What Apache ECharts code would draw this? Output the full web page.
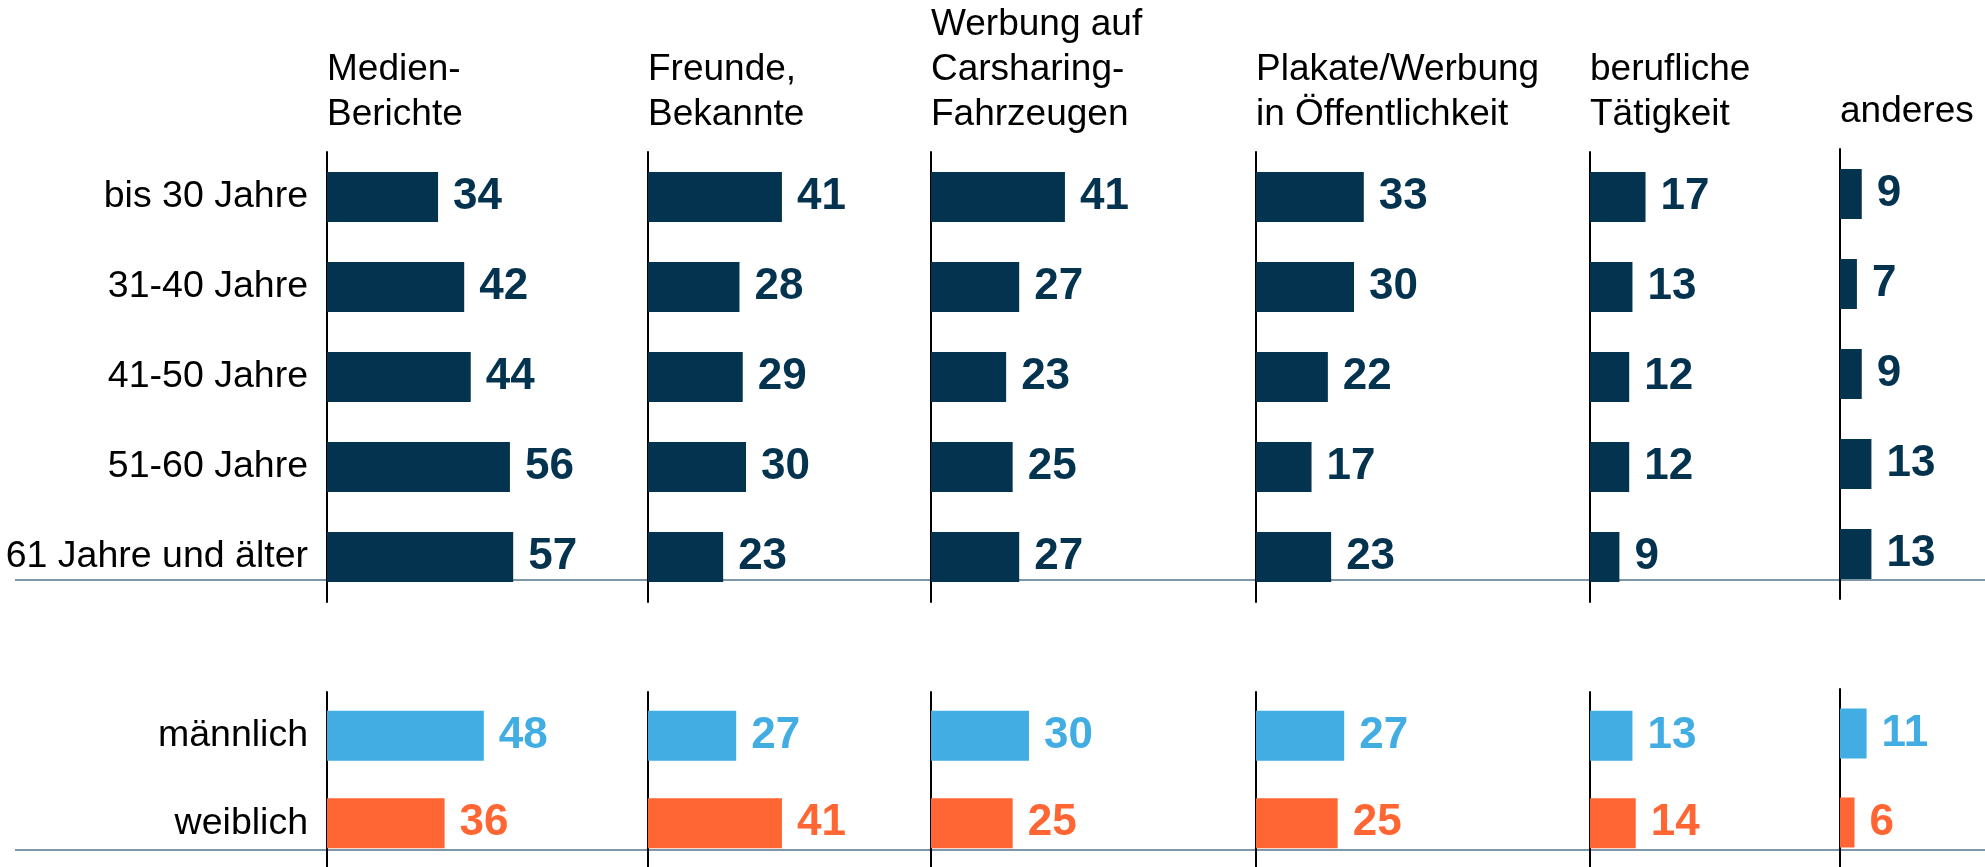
<!DOCTYPE html>
<html>
<head>
    <meta charset="UTF-8">
    <title>Carsharing - Informationsquellen</title>
    <script src="https://cdn.jsdelivr.net/npm/echarts@6/dist/echarts.min.js"></script>
    <style>
        html, body { margin: 0; padding: 0; background: #fff; }
    </style>
</head>
<body>
    <div id="main" style="width: 1985px;height:867px;"></div>
    <script>
        // Daten
        var ageGroups = ['bis 30 Jahre', '31-40 Jahre', '41-50 Jahre', '51-60 Jahre', '61 Jahre und älter'];
        var genders = ['männlich', 'weiblich'];
        var sources = ['Medien-\nBerichte', 'Freunde,\nBekannte', 'Werbung auf\nCarsharing-\nFahrzeugen',
                       'Plakate/Werbung\nin Öffentlichkeit', 'berufliche\nTätigkeit', 'anderes'];
        var medien     = [34, 42, 44, 56, 57];
        var freunde    = [41, 28, 29, 30, 23];
        var werbungCar = [41, 27, 23, 25, 27];
        var plakate    = [33, 30, 22, 17, 23];
        var beruflich  = [17, 13, 12, 12, 9];
        var anderes    = [9, 7, 9, 13, 13];
        var maennlich  = [48, 27, 30, 27, 13, 11];
        var weiblich   = [36, 41, 25, 25, 14, 6];

        var ageValues = [medien, freunde, werbungCar, plakate, beruflich, anderes];

        var NAVY = '#04334f', BLUE = '#41ade3', ORANGE = '#ff6633';
        var FONT = 'Liberation Sans, Arial, sans-serif';

        var panelLeft = [327, 648, 931, 1256, 1590, 1840];
        var panelShift = [0, 0, 0, 0, 0, -3];

        var chartDemo = echarts.init(document.getElementById('main'));

        var grids = [], xAxes = [], yAxes = [], series = [], titles = [];

        function labelOpt(color) {
            return {
                show: true, position: 'right', distance: 15,
                fontSize: 44, fontWeight: 'bold', fontFamily: FONT, color: color
            };
        }

        for (var p = 0; p < sources.length; p++) {
            var s = panelShift[p];
            titles.push({
                text: sources[p], left: panelLeft[p], bottom: 730 - s, padding: 0,
                textStyle: { fontSize: 37, lineHeight: 45, fontWeight: 'normal', color: '#000', fontFamily: FONT }
            });
            // oben: Altersgruppen
            grids.push({ left: panelLeft[p], top: 152 + s, width: 196, height: 450 });
            // unten: Geschlecht
            grids.push({ left: panelLeft[p], top: 692 + s, width: 196, height: 178 });

            for (var k = 0; k < 2; k++) {
                var gi = p * 2 + k;
                xAxes.push({ type: 'value', gridIndex: gi, min: 0, max: 60, show: false });
                yAxes.push({
                    type: 'category', gridIndex: gi, inverse: true,
                    data: k === 0 ? ageGroups : genders,
                    axisLine: { show: true, lineStyle: { color: '#000', width: 2 } },
                    axisTick: { show: false },
                    axisLabel: {
                        show: p === 0, margin: 19, fontSize: 37.5, color: '#000', fontFamily: FONT
                    }
                });
            }

            series.push({
                type: 'bar', xAxisIndex: p * 2, yAxisIndex: p * 2, barWidth: 50,
                itemStyle: { color: NAVY },
                label: labelOpt(NAVY),
                data: ageValues[p]
            });
            series.push({
                type: 'bar', xAxisIndex: p * 2 + 1, yAxisIndex: p * 2 + 1, barWidth: 50,
                data: [
                    { value: maennlich[p], itemStyle: { color: BLUE }, label: labelOpt(BLUE) },
                    { value: weiblich[p], itemStyle: { color: ORANGE }, label: labelOpt(ORANGE) }
                ],
                label: labelOpt(NAVY)
            });
        }

        chartDemo.setOption({
            animation: false,
            title: titles,
            grid: grids,
            xAxis: xAxes,
            yAxis: yAxes,
            series: series,
            graphic: [
                { type: 'line', z: 0, shape: { x1: 15, y1: 580, x2: 1985, y2: 580 },
                  style: { stroke: '#52748b', lineWidth: 1.5 } },
                { type: 'line', z: 0, shape: { x1: 15, y1: 850, x2: 1985, y2: 850 },
                  style: { stroke: '#52748b', lineWidth: 1.5 } }
            ]
        });
    </script>
</body>
</html>
